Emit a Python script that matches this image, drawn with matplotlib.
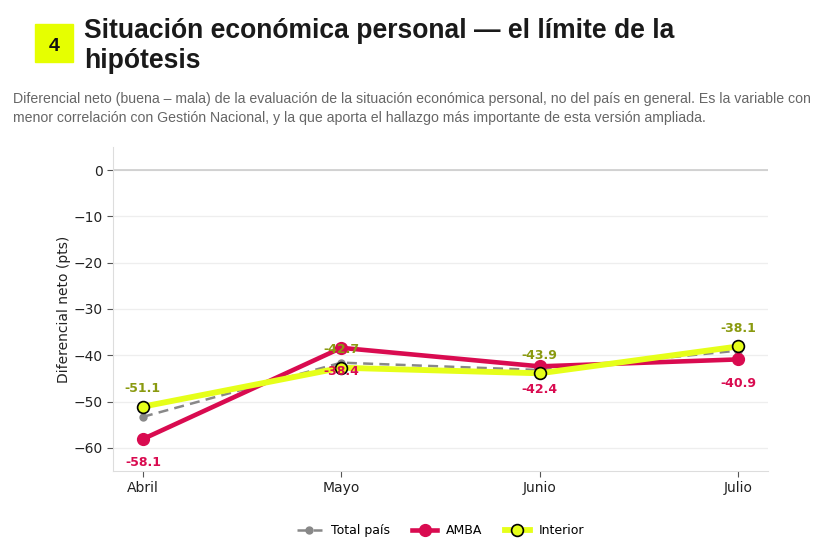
import matplotlib
matplotlib.use("Agg")
import matplotlib.pyplot as plt
from matplotlib.patches import Rectangle

meses = ["Abril", "Mayo", "Junio", "Julio"]
total_pais = [-53.3, -41.6, -43.2, -39.0]
amba = [-58.1, -38.4, -42.4, -40.9]
interior = [-51.1, -42.7, -43.9, -38.1]

titulo = ["Situación económica personal — el límite de la", "hipótesis"]
bajada = ["Diferencial neto (buena – mala) de la evaluación de la situación económica "
          "personal, no del país en general. Es la variable con",
          "menor correlación con Gestión Nacional, y la que aporta el hallazgo más "
          "importante de esta versión ampliada."]

c_amba = "#d90b50"
c_int = "#e6ff1a"
c_int_txt = "#8a9a10"
c_total = "#888888"

plt.rcParams['font.family'] = ['DejaVu Sans']
W, H = 832, 548

fig = plt.figure(figsize=(8.32, 5.48), dpi=100)
ax = fig.add_axes([0.136, 0.1405, 0.787, 0.5915])

x = list(range(len(meses)))
ax.plot(x, total_pais, color=c_total, lw=1.8, ls=(0, (4, 2.5)), marker='o', ms=5,
        label="Total país", zorder=3)
ax.plot(x, amba, color=c_amba, lw=3.3, marker='o', ms=8.5, label="AMBA", zorder=4)
ax.plot(x, interior, color=c_int, lw=4.2, marker='o', ms=8.5, mfc=c_int, mec='black',
        mew=1.2, label="Interior", zorder=5)

for i, v in enumerate(interior):
    ax.annotate(f"{v:.1f}", (i, v), xytext=(0, 13), textcoords='offset points',
                ha='center', va='center', fontsize=9, fontweight='bold', color=c_int_txt,
                zorder=6)
for i, v in enumerate(amba):
    ax.annotate(f"{v:.1f}", (i, v), xytext=(0, -17), textcoords='offset points',
                ha='center', va='center', fontsize=9, fontweight='bold', color=c_amba,
                zorder=6)

ax.axhline(0, color='#cccccc', lw=1.2, zorder=1)
ax.set_ylim(-65, 5)
ax.set_xlim(-0.15, 3.15)
ax.set_xticks(x)
ax.set_xticklabels(meses)
ax.set_yticks([0, -10, -20, -30, -40, -50, -60])
ax.yaxis.grid(True, color='#eeeeee', lw=0.9)
ax.set_axisbelow(True)
ax.tick_params(labelsize=10, colors='#222222', length=4)
ax.tick_params(axis='both', color='#555555')
for s in ['top', 'right']:
    ax.spines[s].set_visible(False)
for s in ['left', 'bottom']:
    ax.spines[s].set_color('#dddddd')
ax.set_ylabel("Diferencial neto (pts)", fontsize=10, color='#222222', labelpad=2)

ax.legend(loc='upper center', bbox_to_anchor=(0.5, -0.13), ncol=3, frameon=False,
          fontsize=9, handlelength=2.0, handletextpad=0.7, columnspacing=1.8)

# encabezado
fig.patches.append(Rectangle((35 / W, 1 - 62 / H), 38 / W, 38 / H,
                             transform=fig.transFigure, color='#e6ff00', zorder=0))
fig.text(54 / W, 1 - 51 / H, "4", ha='center', va='baseline', fontsize=14,
         fontweight='bold', family=['Liberation Sans'], color='#111111')
fig.text(84 / W, 1 - 38 / H, titulo[0], ha='left', va='baseline', fontsize=19.1,
         fontweight='bold', family=['Liberation Sans'], color='#1a1a1a')
fig.text(84 / W, 1 - 68 / H, titulo[1], ha='left', va='baseline', fontsize=19.1,
         fontweight='bold', family=['Liberation Sans'], color='#1a1a1a')
fig.text(13 / W, 1 - 103 / H, bajada[0], ha='left', va='baseline', fontsize=10.2,
         family=['Liberation Sans'], color='#666666')
fig.text(13 / W, 1 - 122 / H, bajada[1], ha='left', va='baseline', fontsize=10.2,
         family=['Liberation Sans'], color='#666666')

fig.savefig("out.png", dpi=100, facecolor='white')
